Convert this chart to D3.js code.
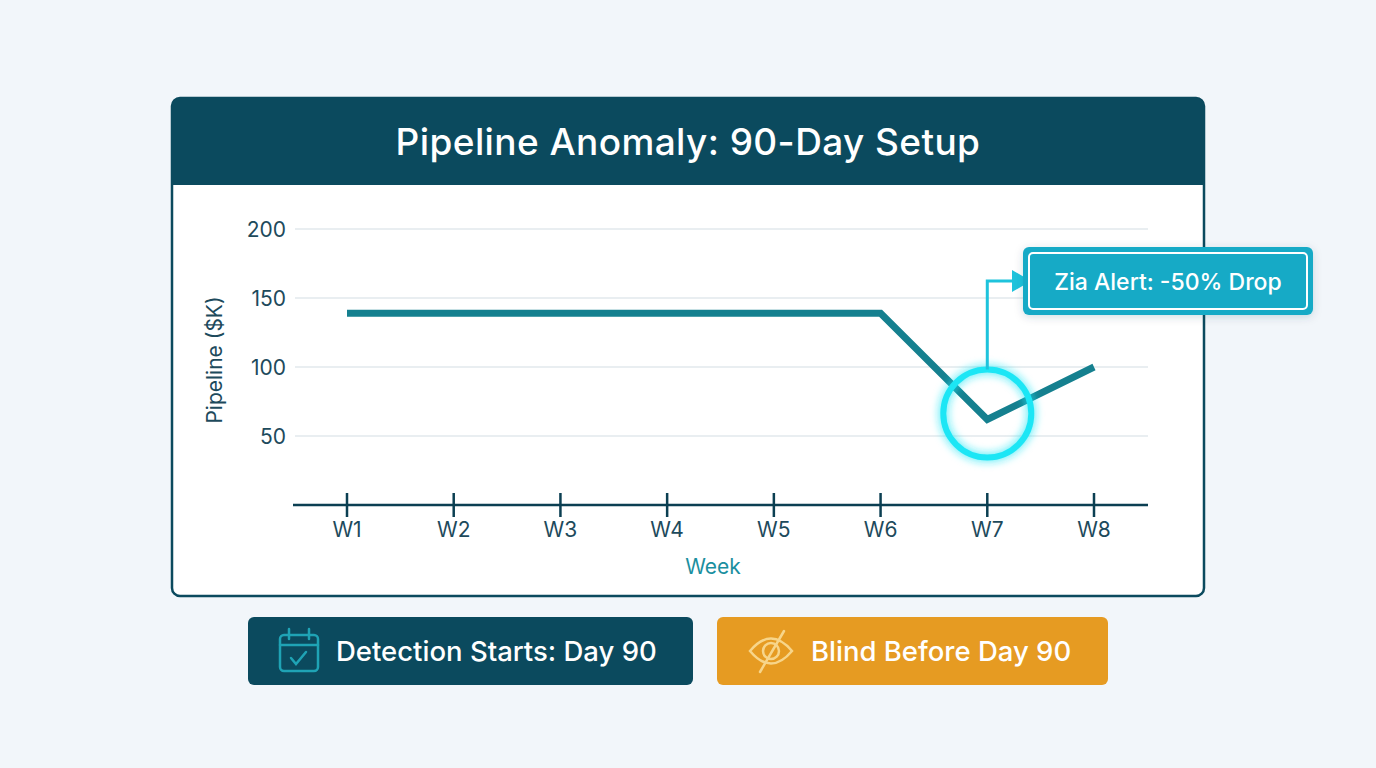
<!DOCTYPE html>
<html><head><meta charset="utf-8">
<script src="https://cdn.jsdelivr.net/npm/d3@7"></script>
<style>body{margin:0;background:#f2f6fa;font-family:Inter,"Noto Sans",sans-serif}</style>
</head><body><svg id="c" width="1376" height="768"></svg>
<script>
const weeks=["W1","W2","W3","W4","W5","W6","W7","W8"];
const pipeline=[139,139,139,139,139,139,62,100];
const yTicks=[50,100,150,200];
const title="Pipeline Anomaly: 90-Day Setup";
const alertText="Zia Alert: -50% Drop";

const svg=d3.select("#c");
const defs=svg.append("defs");
const f=defs.append("filter").attr("id","glow").attr("x","-50%").attr("y","-50%").attr("width","200%").attr("height","200%");
f.append("feGaussianBlur").attr("stdDeviation",5).attr("result","b");
const m=f.append("feMerge");m.append("feMergeNode").attr("in","b");m.append("feMergeNode").attr("in","SourceGraphic");
const sh=defs.append("filter").attr("id","sh").attr("x","-20%").attr("y","-20%").attr("width","140%").attr("height","160%");
sh.append("feDropShadow").attr("dx",0).attr("dy",2).attr("stdDeviation",4).attr("flood-color","#0b4a5e").attr("flood-opacity",0.18);

svg.append("rect").attr("x",172).attr("y",98).attr("width",1032).attr("height",498).attr("rx",8).attr("fill","#fff").attr("stroke","#0b4a5e").attr("stroke-width",2.5);
svg.append("path").attr("d","M172,185 V106 a8,8 0 0 1 8,-8 H1196 a8,8 0 0 1 8,8 V185 Z").attr("fill","#0b4a5e");
svg.append("text").attr("x",688).attr("y",155).attr("text-anchor","middle").attr("fill","#fff").attr("font-size",37).attr("font-weight",500).attr("letter-spacing",0.4).text(title);

const x=d3.scalePoint().domain(weeks).range([347,1094]);
const y=d3.scaleLinear().domain([0,200]).range([505,229]);

const g=svg.append("g");
yTicks.forEach(t=>{
  g.append("line").attr("x1",295).attr("x2",1148).attr("y1",y(t)).attr("y2",y(t)).attr("stroke","#d3dde3").attr("stroke-width",1.2);
  g.append("text").attr("x",286).attr("y",y(t)+8).attr("text-anchor","end").attr("font-size",21).attr("fill","#1d4a5c").text(t);
});
const ax=g.append("g").attr("transform","translate(0,505)").call(d3.axisBottom(x).tickSize(0).tickPadding(0).tickFormat(""));
ax.select(".domain").remove();
g.append("line").attr("x1",293).attr("x2",1148).attr("y1",505).attr("y2",505).attr("stroke","#0b3f52").attr("stroke-width",2.5);
weeks.forEach(w=>{
  g.append("line").attr("x1",x(w)).attr("x2",x(w)).attr("y1",493).attr("y2",517).attr("stroke","#0b3f52").attr("stroke-width",2.5);
  g.append("text").attr("x",x(w)).attr("y",537).attr("text-anchor","middle").attr("font-size",21).attr("fill","#1d4a5c").text(w);
});
g.append("text").attr("x",713).attr("y",574).attr("text-anchor","middle").attr("font-size",21).attr("fill","#1b8fa0").text("Week");
g.append("text").attr("transform","translate(222,360) rotate(-90)").attr("text-anchor","middle").attr("font-size",21).attr("fill","#1d4a5c").text("Pipeline ($K)");

const line=d3.line().x((d,i)=>x(weeks[i])).y(d=>y(d));
g.append("path").attr("d",line(pipeline)).attr("fill","none").attr("stroke","#15808f").attr("stroke-width",7).attr("stroke-linejoin","miter");

const cx=x("W7"), cy=y(pipeline[6])-6;
g.append("circle").attr("cx",cx).attr("cy",cy).attr("r",44).attr("fill","none").attr("stroke","#1ee6f5").attr("stroke-width",6).attr("filter","url(#glow)");
g.append("path").attr("d",`M${cx},${cy-44} V281 H1017`).attr("fill","none").attr("stroke","#1ec3dc").attr("stroke-width",3);
g.append("path").attr("d","M1012,270 L1031,281 L1012,292 Z").attr("fill","#1ec3dc");
g.append("rect").attr("x",1023).attr("y",247).attr("width",290).attr("height",68).attr("rx",6).attr("fill","#19aac6").attr("filter","url(#sh)");
g.append("rect").attr("x",1029).attr("y",253).attr("width",278).attr("height",56).attr("rx",4).attr("fill","none").attr("stroke","#fff").attr("stroke-width",2);
g.append("text").attr("x",1168).attr("y",290).attr("text-anchor","middle").attr("font-size",23).attr("font-weight",500).attr("fill","#fff").text(alertText);

svg.append("rect").attr("x",248).attr("y",617).attr("width",445).attr("height",68).attr("rx",6).attr("fill","#0b4a5e");
svg.append("text").attr("x",336).attr("y",661).attr("font-size",27.5).attr("font-weight",500).attr("fill","#fff").text("Detection Starts: Day 90");
const ic=svg.append("g").attr("fill","none").attr("stroke","#1fa3b5").attr("stroke-width",2.5).attr("stroke-linecap","round");
ic.append("rect").attr("x",280).attr("y",635).attr("width",38).attr("height",36).attr("rx",4);
ic.append("line").attr("x1",280).attr("x2",318).attr("y1",645).attr("y2",645);
ic.append("line").attr("x1",289).attr("x2",289).attr("y1",629).attr("y2",639);
ic.append("line").attr("x1",309).attr("x2",309).attr("y1",629).attr("y2",639);
ic.append("path").attr("d","M291,658 l5,6 l10,-12");

svg.append("rect").attr("x",717).attr("y",617).attr("width",391).attr("height",68).attr("rx",6).attr("fill","#e69b22");
svg.append("text").attr("x",811).attr("y",661).attr("font-size",27.5).attr("font-weight",500).attr("fill","#fff").text("Blind Before Day 90");
const ey=svg.append("g").attr("fill","none").attr("stroke","#f7d58a").attr("stroke-width",2.5).attr("stroke-linecap","round");
ey.append("path").attr("d","M750,651 Q771,626 792,651 Q771,676 750,651 Z");
ey.append("circle").attr("cx",771).attr("cy",651).attr("r",8);
ey.append("line").attr("x1",760).attr("y1",672).attr("x2",784).attr("y2",631);
</script></body></html>
